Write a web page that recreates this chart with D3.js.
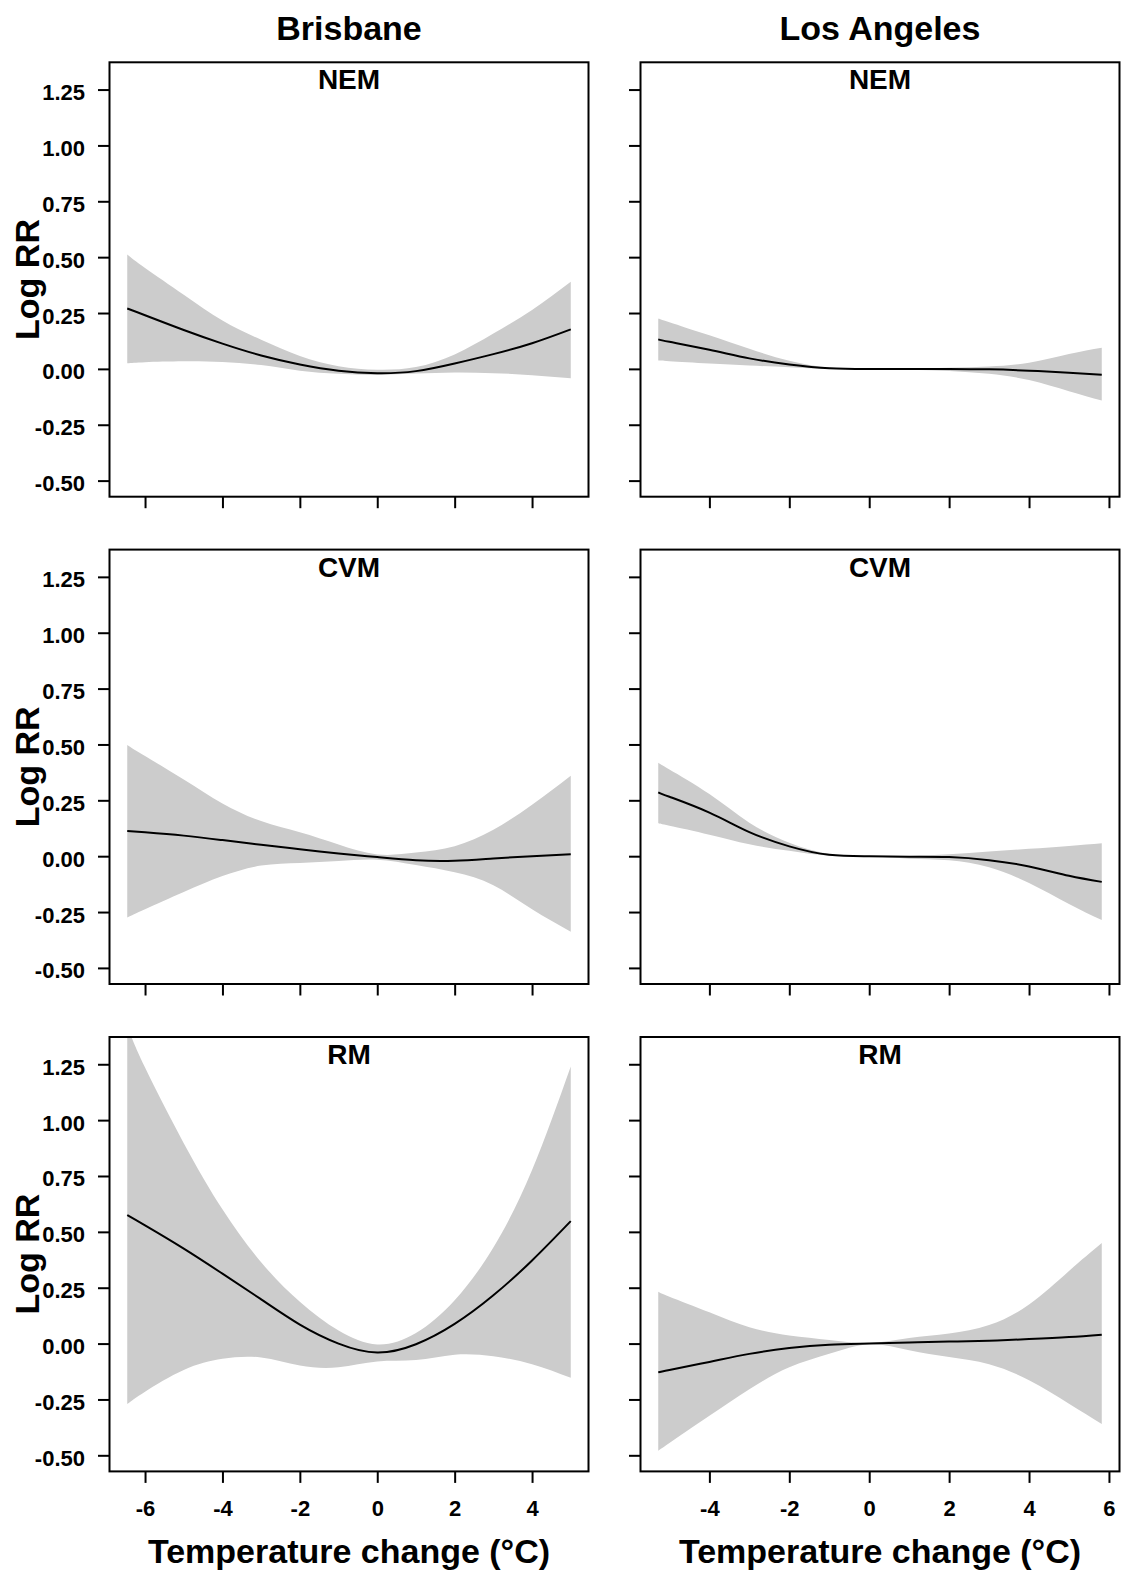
<!DOCTYPE html>
<html>
<head>
<meta charset="utf-8">
<script src="https://cdn.jsdelivr.net/npm/d3@7"></script>
<style>
  body { margin: 0; background: #fff; }
  svg { display: block; }
  text { font-family: "Liberation Sans", Arial, Helvetica, sans-serif; font-weight: bold; fill: #000; }
</style>
</head>
<body>
<svg id="chart" width="1121" height="1575"></svg>
<script>
// Cities (columns) and mortality outcomes (rows)
const cities = ["Brisbane", "Los Angeles"];
const outcomes = ["NEM", "CVM", "RM"];

// Temperature change grid (°C) for each city
const brisbaneTemp = [-6.46, -6, -5, -4, -3, -2, -1, 0, 1, 2, 3, 4, 5.0];
const losAngelesTemp = [-5.28, -5, -4, -3, -2, -1, 0, 1, 2, 3, 4, 5, 5.82];

// Brisbane: log RR estimate with lower / upper 95% limits
const brisbaneNemFit   = [0.270, 0.240, 0.174, 0.113, 0.060, 0.020, -0.008, -0.019, -0.010, 0.024, 0.066, 0.115, 0.177];
const brisbaneNemLow   = [0.025, 0.030, 0.034, 0.031, 0.017, -0.008, -0.022, -0.027, -0.021, -0.016, -0.019, -0.028, -0.042];
const brisbaneNemHigh  = [0.512, 0.452, 0.332, 0.216, 0.130, 0.058, 0.012, -0.004, 0.008, 0.064, 0.158, 0.264, 0.390];

const brisbaneCvmFit   = [0.113, 0.107, 0.092, 0.072, 0.051, 0.031, 0.012, -0.004, -0.018, -0.020, -0.010, 0.000, 0.009];
const brisbaneCvmLow   = [-0.274, -0.237, -0.160, -0.089, -0.042, -0.030, -0.022, -0.016, -0.040, -0.072, -0.130, -0.238, -0.338];
const brisbaneCvmHigh  = [0.498, 0.448, 0.343, 0.236, 0.157, 0.107, 0.052, 0.008, 0.016, 0.045, 0.118, 0.230, 0.360];

const brisbaneRmFit    = [0.575, 0.529, 0.425, 0.313, 0.198, 0.085, 0.000, -0.040, -0.003, 0.088, 0.216, 0.372, 0.548];
const brisbaneRmLow    = [-0.270, -0.215, -0.118, -0.068, -0.062, -0.098, -0.106, -0.080, -0.074, -0.050, -0.057, -0.092, -0.153];
const brisbaneRmHigh   = [1.420, 1.235, 0.897, 0.601, 0.364, 0.187, 0.058, -0.004, 0.047, 0.194, 0.430, 0.777, 1.240];

// Los Angeles: log RR estimate with lower / upper 95% limits
const losAngelesNemFit  = [0.132, 0.121, 0.086, 0.047, 0.020, 0.003, 0.000, 0.000, 0.000, -0.002, -0.008, -0.017, -0.026];
const losAngelesNemLow  = [0.037, 0.034, 0.024, 0.015, 0.007, 0.000, 0.000, -0.004, -0.009, -0.022, -0.050, -0.100, -0.142];
const losAngelesNemHigh = [0.226, 0.209, 0.150, 0.090, 0.036, 0.006, 0.000, 0.001, 0.005, 0.011, 0.028, 0.067, 0.095];

const losAngelesCvmFit  = [0.286, 0.266, 0.195, 0.108, 0.044, 0.006, 0.000, -0.002, -0.004, -0.018, -0.046, -0.088, -0.115];
const losAngelesCvmLow  = [0.147, 0.136, 0.096, 0.053, 0.024, 0.002, 0.000, -0.011, -0.018, -0.050, -0.120, -0.214, -0.286];
const losAngelesCvmHigh = [0.418, 0.388, 0.278, 0.150, 0.060, 0.010, 0.000, 0.001, 0.009, 0.021, 0.033, 0.046, 0.058];

const losAngelesRmFit   = [-0.129, -0.118, -0.082, -0.046, -0.020, -0.005, 0.000, 0.005, 0.009, 0.013, 0.020, 0.029, 0.040];
const losAngelesRmLow   = [-0.480, -0.445, -0.323, -0.204, -0.106, -0.046, -0.003, -0.030, -0.060, -0.092, -0.164, -0.269, -0.360];
const losAngelesRmHigh  = [0.232, 0.210, 0.140, 0.073, 0.036, 0.016, 0.003, 0.025, 0.045, 0.083, 0.175, 0.325, 0.450];

// Axis ticks
const yLimits = [-0.5, 1.3];
const yTicks = [-0.5, -0.25, 0, 0.25, 0.5, 0.75, 1, 1.25];
const brisbaneXTicks = [-6, -4, -2, 0, 2, 4];
const losAngelesXTicks = [-4, -2, 0, 2, 4, 6];

// Panel table built from the arrays above
const panels = [
  { row: 0, col: 0, temp: brisbaneTemp, fit: brisbaneNemFit, low: brisbaneNemLow, high: brisbaneNemHigh, xTicks: brisbaneXTicks },
  { row: 0, col: 1, temp: losAngelesTemp, fit: losAngelesNemFit, low: losAngelesNemLow, high: losAngelesNemHigh, xTicks: losAngelesXTicks },
  { row: 1, col: 0, temp: brisbaneTemp, fit: brisbaneCvmFit, low: brisbaneCvmLow, high: brisbaneCvmHigh, xTicks: brisbaneXTicks },
  { row: 1, col: 1, temp: losAngelesTemp, fit: losAngelesCvmFit, low: losAngelesCvmLow, high: losAngelesCvmHigh, xTicks: losAngelesXTicks },
  { row: 2, col: 0, temp: brisbaneTemp, fit: brisbaneRmFit, low: brisbaneRmLow, high: brisbaneRmHigh, xTicks: brisbaneXTicks },
  { row: 2, col: 1, temp: losAngelesTemp, fit: losAngelesRmFit, low: losAngelesRmLow, high: losAngelesRmHigh, xTicks: losAngelesXTicks }
];

// Layout
const colLeft = [109.5, 640.5];
const rowTop = [62.3, 549.6, 1037];
const panelW = 479;
const panelH = 434.4;
const tickLen = 11.5;

// R-style axis padding: extend the data range by 4% on each side
function padded([a, b]) {
  const p = (b - a) * 0.04;
  return [a - p, b + p];
}

// Plain hyphen for negative numbers
const fmt2 = d => d3.format(".2f")(d).replace("\u2212", "-");
const fmt0 = d => d3.format("d")(d).replace("\u2212", "-");

const svg = d3.select("#chart");
svg.append("rect").attr("width", 1121).attr("height", 1575).attr("fill", "#fff");

const curve = d3.curveNatural;

panels.forEach((p, i) => {
  const x0 = colLeft[p.col];
  const y0 = rowTop[p.row];

  const x = d3.scaleLinear().domain(padded(d3.extent(p.temp))).range([x0, x0 + panelW]);
  const y = d3.scaleLinear().domain(padded(yLimits)).range([y0 + panelH, y0]);

  const g = svg.append("g");

  const clipId = "clip" + i;
  svg.append("clipPath").attr("id", clipId)
    .append("rect").attr("x", x0).attr("y", y0).attr("width", panelW).attr("height", panelH);

  const rows = p.temp.map((t, k) => ({ t, fit: p.fit[k], low: p.low[k], high: p.high[k] }));

  const plot = g.append("g").attr("clip-path", `url(#${clipId})`);

  // Confidence band
  plot.append("path")
    .datum(rows)
    .attr("fill", "#cccccc")
    .attr("stroke", "none")
    .attr("d", d3.area().curve(curve).x(d => x(d.t)).y0(d => y(d.low)).y1(d => y(d.high)));

  // Estimated curve
  plot.append("path")
    .datum(rows)
    .attr("fill", "none")
    .attr("stroke", "#000")
    .attr("stroke-width", 2)
    .attr("d", d3.line().curve(curve).x(d => x(d.t)).y(d => y(d.fit)));

  // Y axis (labels on the left column only)
  const yAxis = d3.axisLeft(y).tickValues(yTicks).tickSize(tickLen)
    .tickFormat(p.col === 0 ? fmt2 : () => "");
  const ya = g.append("g").attr("transform", `translate(${x0},0)`).call(yAxis);
  ya.select(".domain").remove();
  ya.selectAll(".tick line").attr("stroke", "#000").attr("stroke-width", 2);
  ya.selectAll(".tick text")
    .attr("x", -24.5).attr("dy", null).attr("y", 10)
    .style("font-size", "22px").style("font-family", null).attr("fill", "#000");

  // X axis (labels on the bottom row only)
  const xAxis = d3.axisBottom(x).tickValues(p.xTicks).tickSize(tickLen)
    .tickFormat(p.row === 2 ? fmt0 : () => "");
  const xa = g.append("g").attr("transform", `translate(0,${y0 + panelH})`).call(xAxis);
  xa.select(".domain").remove();
  xa.selectAll(".tick line").attr("stroke", "#000").attr("stroke-width", 2);
  xa.selectAll(".tick text")
    .attr("y", 45).attr("dy", null)
    .style("font-size", "22px").style("font-family", null).attr("fill", "#000");

  // Panel box
  g.append("rect")
    .attr("x", x0).attr("y", y0).attr("width", panelW).attr("height", panelH)
    .attr("fill", "none").attr("stroke", "#000").attr("stroke-width", 2);

  // Outcome title inside the panel
  g.append("text")
    .attr("x", x0 + panelW / 2).attr("y", y0 + 27)
    .attr("text-anchor", "middle").style("font-size", "28px")
    .text(outcomes[p.row]);

  // Y axis title on the left column
  if (p.col === 0) {
    g.append("text")
      .attr("transform", `translate(38.5,${y0 + panelH / 2}) rotate(-90)`)
      .attr("text-anchor", "middle").style("font-size", "34px")
      .text("Log RR");
  }

  // City title on the top row
  if (p.row === 0) {
    g.append("text")
      .attr("x", x0 + panelW / 2).attr("y", 40)
      .attr("text-anchor", "middle").style("font-size", "34px")
      .text(cities[p.col]);
  }

  // X axis title on the bottom row
  if (p.row === 2) {
    g.append("text")
      .attr("x", x0 + panelW / 2).attr("y", 1563)
      .attr("text-anchor", "middle").style("font-size", "34px")
      .text("Temperature change (°C)");
  }
});
</script>
</body>
</html>
